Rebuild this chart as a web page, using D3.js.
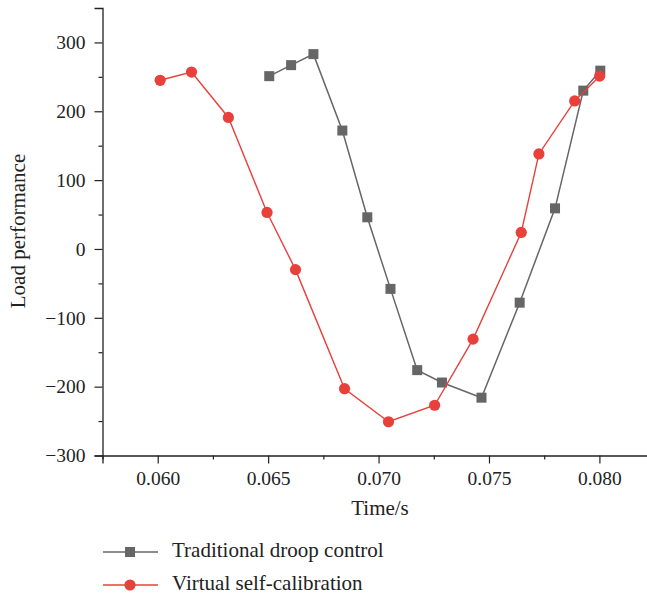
<!DOCTYPE html>
<html>
<head>
<meta charset="utf-8">
<script src="https://cdn.jsdelivr.net/npm/d3@7"></script>
<style>
  body { margin: 0; background: #fff; }
  text { font-family: "Liberation Serif", "DejaVu Serif", serif; fill: #222; }
</style>
</head>
<body>
<svg id="chart" width="647" height="596"></svg>
<script>
const droopTime = [0.06505, 0.06604, 0.06705, 0.06836, 0.06949, 0.07054, 0.07175,
  0.07287, 0.07466, 0.07639, 0.07799, 0.07927, 0.08004];
const droopLoad = [251, 267, 283, 172, 46, -58, -176, -194, -216, -78, 59, 230, 259];

const virtualTime = [0.06011, 0.06153, 0.06320, 0.06495, 0.06624, 0.06846, 0.07045,
  0.07254, 0.07428, 0.07646, 0.07726, 0.07888, 0.08001];
const virtualLoad = [245, 257, 191, 53, -30, -203, -251, -227, -131, 24, 138, 215, 251];

const xTicks = [0.060, 0.065, 0.070, 0.075, 0.080];
const yTicks = [-300, -200, -100, 0, 100, 200, 300];

const seriesNames = ['Traditional droop control', 'Virtual self-calibration'];

const GRAY = '#666666';
const RED = '#e8403a';

const svg = d3.select('#chart');

const x = d3.scaleLinear().domain([0.0575, 0.0822]).range([102.5, 648]);
const y = d3.scaleLinear().domain([-300, 350]).range([455.5, 8]);

// minor ticks halfway between the majors
const xMinor = d3.range(0.0575, 0.0822, 0.005).map(v => +v.toFixed(4));
const yMinor = d3.range(-250, 350, 100);

const xAxis = svg.append('g').attr('transform', `translate(0,${y(-300)})`);
xAxis.call(d3.axisBottom(x).tickValues(xTicks).tickFormat(d3.format('.3f')).tickSize(8).tickPadding(8));
xAxis.append('g').call(d3.axisBottom(x).tickValues(xMinor).tickFormat('').tickSize(4))
  .select('.domain').remove();

const yAxis = svg.append('g').attr('transform', `translate(${x(0.0575)},0)`);
yAxis.call(d3.axisLeft(y).tickValues(yTicks).tickFormat(d => d < 0 ? '\u2212' + Math.abs(d) : d).tickSize(8).tickPadding(9));
yAxis.append('g').call(d3.axisLeft(y).tickValues(yMinor).tickFormat('').tickSize(4))
  .select('.domain').remove();

svg.selectAll('.domain').attr('stroke', '#222').attr('stroke-width', 1.3);
svg.selectAll('.tick line').attr('stroke', '#222').attr('stroke-width', 1.2);
svg.selectAll('.tick text').attr('font-size', 19.5).attr('fill', '#222')
  .style('font-family', '"Liberation Serif", "DejaVu Serif", serif');

svg.append('text')
  .attr('x', 380).attr('y', 515)
  .attr('text-anchor', 'middle')
  .attr('font-size', 21)
  .text('Time/s');

svg.append('text')
  .attr('transform', 'translate(25,231) rotate(-90)')
  .attr('text-anchor', 'middle')
  .attr('font-size', 21)
  .text('Load performance');

const line = d3.line().x(d => x(d[0])).y(d => y(d[1]));

const droop = droopTime.map((t, i) => [t, droopLoad[i]]);
const virtual = virtualTime.map((t, i) => [t, virtualLoad[i]]);

svg.append('path').datum(droop)
  .attr('fill', 'none').attr('stroke', GRAY).attr('stroke-width', 1.5)
  .attr('d', line);

svg.append('g').selectAll('rect')
  .data(droop).enter().append('rect')
  .attr('x', d => x(d[0]) - 5).attr('y', d => y(d[1]) - 5)
  .attr('width', 10).attr('height', 10)
  .attr('fill', GRAY);

svg.append('path').datum(virtual)
  .attr('fill', 'none').attr('stroke', RED).attr('stroke-width', 1.4)
  .attr('d', line);

svg.append('g').selectAll('circle')
  .data(virtual).enter().append('circle')
  .attr('cx', d => x(d[0])).attr('cy', d => y(d[1]))
  .attr('r', 5.6)
  .attr('fill', RED);

// legend
const legend = svg.append('g');
const legendRows = legend.selectAll('g')
  .data(seriesNames).enter().append('g')
  .attr('transform', (d, i) => `translate(103,${552 + i * 33})`);

legendRows.append('line')
  .attr('x1', 0).attr('x2', 55).attr('y1', 0).attr('y2', 0)
  .attr('stroke', (d, i) => i ? RED : GRAY).attr('stroke-width', 1.5);

legendRows.filter((d, i) => i === 0).append('rect')
  .attr('x', 22).attr('y', -5).attr('width', 10).attr('height', 10).attr('fill', GRAY);
legendRows.filter((d, i) => i === 1).append('circle')
  .attr('cx', 27).attr('cy', 0).attr('r', 5.6).attr('fill', RED);

legendRows.append('text')
  .attr('x', 69).attr('y', 5)
  .attr('font-size', 21)
  .text(d => d);
</script>
</body>
</html>
